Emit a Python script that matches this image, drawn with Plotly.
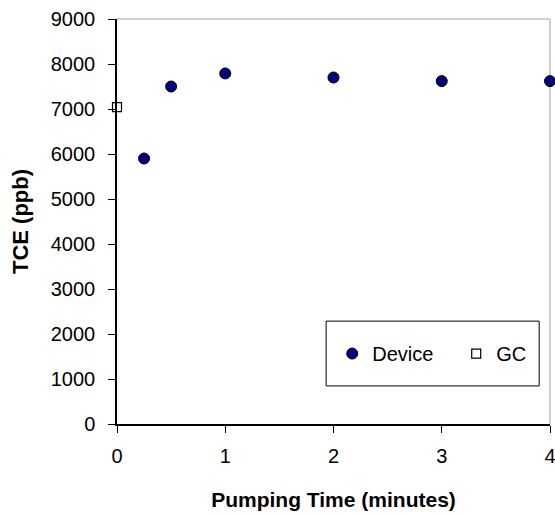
import plotly.graph_objects as go

device_time = [0.25, 0.5, 1, 2, 3, 4]
device_tce = [5900, 7500, 7790, 7700, 7620, 7620]
gc_time = [0]
gc_tce = [7040]

FONT = "Liberation Sans, Arial, sans-serif"

fig = go.Figure()
fig.add_trace(go.Scatter(
    x=device_time, y=device_tce, mode="markers", name="Device",
    marker=dict(symbol="circle", size=11, color="#000080",
                line=dict(color="black", width=1)),
    cliponaxis=False,
))
fig.add_trace(go.Scatter(
    x=gc_time, y=gc_tce, mode="markers", name="GC",
    marker=dict(symbol="square", size=9, color="white",
                line=dict(color="black", width=1.2)),
    cliponaxis=False,
))

fig.update_layout(
    width=555, height=515,
    margin=dict(l=117, r=5, t=19, b=91, autoexpand=False),
    paper_bgcolor="white", plot_bgcolor="white",
    font=dict(family=FONT, size=20, color="black"),
    showlegend=True,
    legend=dict(orientation="h", x=0.497, xanchor="left", y=0.174, yanchor="middle",
                bgcolor="rgba(0,0,0,0)", borderwidth=0,
                font=dict(family=FONT, size=20, color="black"),
                entrywidth=79, entrywidthmode="pixels"),
    shapes=[
        dict(type="line", xref="paper", yref="paper", x0=0, x1=1, y0=1, y1=1,
             line=dict(color="#c0c0c0", width=1.5), layer="below"),
        dict(type="line", xref="paper", yref="paper", x0=1, x1=1, y0=0, y1=1,
             line=dict(color="#c0c0c0", width=1.5), layer="below"),
        dict(type="rect", xref="paper", yref="paper", x0=0.483, x1=0.975,
             y0=0.094, y1=0.254, line=dict(color="black", width=1),
             fillcolor="white", layer="below"),
    ],
)
fig.update_xaxes(
    range=[0, 4], dtick=1, tick0=0, showgrid=False, zeroline=False,
    showline=True, linecolor="black", linewidth=1.5,
    ticks="outside", ticklen=7, tickwidth=1.2, tickcolor="black",
    ticklabelstandoff=6, ticklabeloverflow="allow",
    title=dict(text="<b>Pumping Time (minutes)</b>", standoff=27,
               font=dict(family=FONT, size=21)),
)
fig.update_yaxes(
    range=[0, 9000], dtick=1000, tick0=0, showgrid=False, zeroline=False,
    showline=True, linecolor="black", linewidth=1.5,
    ticks="outside", ticklen=7, tickwidth=1.2, tickcolor="black",
    ticklabelstandoff=9, ticklabeloverflow="allow",
    title=dict(text="<b>TCE (ppb)</b>", standoff=16,
               font=dict(family=FONT, size=22)),
)

fig.write_html(
    "out.html",
    config={"displayModeBar": False},
    post_script="document.body.style.margin='0';document.body.style.overflow='hidden';",
)
